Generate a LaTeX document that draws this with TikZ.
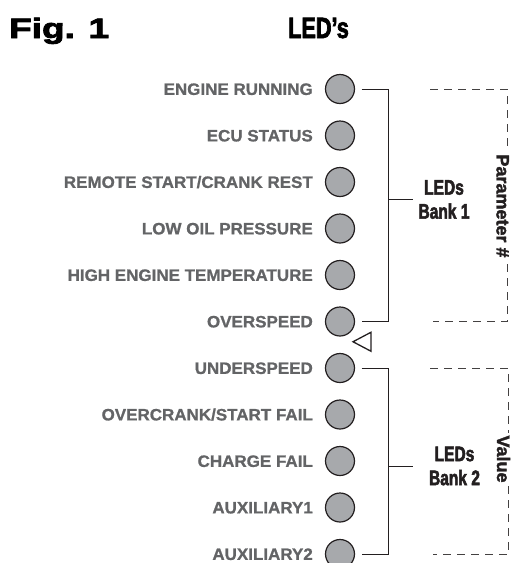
\documentclass[tikz,border=0pt]{standalone}
\usepackage{fontspec}
\setmainfont{Liberation Sans}
\newfontfamily\ledfont[FakeStretch=1.03, FakeBold=1]{Liberation Sans Bold}
\newfontfamily\sidefont[FakeBold=2]{Liberation Sans Bold}
\newfontfamily\condfont[FakeStretch=0.74, FakeBold=2.5]{Liberation Sans Bold}
\newfontfamily\figfont[FakeStretch=1.32, FakeBold=3]{Liberation Sans Bold}
\usetikzlibrary{positioning,calc}
\definecolor{ledfill}{HTML}{A7A9AC}
\definecolor{ledgray}{HTML}{636466}
\definecolor{inkdark}{HTML}{231F20}
\tikzset{
  led/.style={circle, draw=inkdark, fill=ledfill, line width=1.2pt,
    minimum size=29pt, inner sep=0pt, outer sep=0pt},
  ledlabel/.style={font=\ledfont\fontsize{16.5}{18}\selectfont,
    text=ledgray, inner sep=0pt, text height=11.8pt, text depth=0pt},
  banklabel/.style={font=\condfont\fontsize{21}{24}\selectfont,
    align=center, text=inkdark, inner sep=0pt},
  sidelabel/.style={font=\sidefont\fontsize{18}{20}\selectfont,
    rotate=-90, fill=white, inner sep=2.5pt, text=inkdark,
    text height=12.9pt, text depth=0pt},
  bankline/.style={draw=inkdark, line width=1pt},
  rangeline/.style={draw=inkdark!85, line width=0.9pt, dash pattern=on 8pt off 6pt},
  marker/.style={draw=inkdark, line width=1.3pt, line join=miter},
}

\begin{document}
\begin{tikzpicture}[x=1pt, y=-1pt, node distance=17.5pt and 12.5pt]
  \useasboundingbox (0,0) rectangle (516,563);
  % titles
  \node[font=\figfont\fontsize{28}{30}\selectfont, inner sep=0pt, anchor=base west] (fig) at (9,38) {Fig. 1};
  \node[font=\condfont\fontsize{29.3}{32}\selectfont, inner sep=0pt, anchor=base west] (ledtitle) at (288,38) {LED’s};
  % LEDs
  \node[led] (led1) at (340,89) {};
  \node[led, below=of led1] (led2) {};
  \node[led, below=of led2] (led3) {};
  \node[led, below=of led3] (led4) {};
  \node[led, below=of led4] (led5) {};
  \node[led, below=of led5] (led6) {};
  \node[led, below=of led6] (led7) {};
  \node[led, below=of led7] (led8) {};
  \node[led, below=of led8] (led9) {};
  \node[led, below=of led9] (led10) {};
  \node[led, below=of led10] (led11) {};
  \node[ledlabel, left=of led1] {ENGINE RUNNING};
  \node[ledlabel, left=of led2] {ECU STATUS};
  \node[ledlabel, left=of led3] {REMOTE START/CRANK REST};
  \node[ledlabel, left=of led4] {LOW OIL PRESSURE};
  \node[ledlabel, left=of led5] {HIGH ENGINE TEMPERATURE};
  \node[ledlabel, left=of led6] {OVERSPEED};
  \node[ledlabel, left=of led7] {UNDERSPEED};
  \node[ledlabel, left=of led8] {OVERCRANK/START FAIL};
  \node[ledlabel, left=of led9] {CHARGE FAIL};
  \node[ledlabel, left=of led10] {AUXILIARY1};
  \node[ledlabel, left=of led11] {AUXILIARY2};
  % banks
  \coordinate (bus1) at ([xshift=33.5pt]led1.east);
  \coordinate (bus2) at ([xshift=33.5pt]led7.east);
  \draw[bankline] ([xshift=7pt]led1.east) -- (bus1) |- ([xshift=7pt]led6.east);
  \draw[bankline] ([xshift=7pt]led7.east) -- (bus2) |- ([xshift=7pt]led11.east);
  \node[banklabel] (bank1) at (444,199.5) {LEDs\\Bank 1};
  \node[banklabel] (bank2) at (454.5,466) {LEDs\\Bank 2};
  \draw[bankline] (bank1.west -| bus1) -- ++(25,0);
  \draw[bankline] (bank2.west -| bus2) -- ++(25,0);
  % parameter / value ranges
  \draw[rangeline] (430,89) -- (507,89) -- (507,321.5) -- (433,321.5);
  \draw[rangeline] (430,368) -- (508,368) -- (508,554.5) -- (433,554.5);
  \node[sidelabel] (param) at (503,206) {Parameter \#};
  \node[sidelabel] (value) at (503.5,459) {Value};
  % marker between the banks
  \coordinate (gap) at ($(led6)!0.5!(led7)$);
  \draw[marker] ($(gap)+(13,-3)$) -- ++(18,-9.5) -- ++(0,19) -- cycle;
\end{tikzpicture}
\end{document}
